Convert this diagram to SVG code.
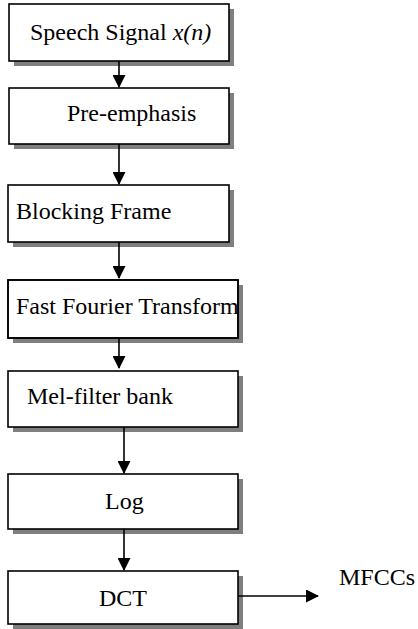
<svg xmlns="http://www.w3.org/2000/svg" width="418" height="629" viewBox="0 0 418 629">
<style>
.sh{fill:#7f7f7f;stroke:none}
.bx{fill:#fff;stroke:#000;stroke-width:1.6}
.t{font-family:'Liberation Serif','Times New Roman',Tinos,'DejaVu Serif',serif;font-size:24px;fill:#000}
.c{stroke:#000;stroke-width:1.6;fill:none}
</style>
<defs>
<marker id="ah" markerWidth="13" markerHeight="13" refX="12" refY="6.5" orient="auto" markerUnits="userSpaceOnUse">
<path d="M0,0 L13,6.5 L0,13 Z" fill="#000"/>
</marker>
<clipPath id="cfft"><rect x="8" y="280" width="230" height="58"/></clipPath>
</defs>
<rect width="418" height="629" fill="#fff"/>
<g id="n1">
<rect class="sh" x="14" y="9" width="220" height="57"/>
<rect class="bx" x="9" y="4" width="220" height="57"/>
<text class="t" x="30" y="40">Speech Signal <tspan font-style="italic">x(n)</tspan></text>
</g>
<g id="n2">
<rect class="sh" x="14" y="93" width="220" height="56"/>
<rect class="bx" x="9" y="88" width="220" height="56"/>
<text class="t" x="67" y="121">Pre-emphasis</text>
</g>
<g id="n3">
<rect class="sh" x="13" y="190" width="221" height="57"/>
<rect class="bx" x="8" y="185" width="221" height="57"/>
<text class="t" x="16" y="219">Blocking Frame</text>
</g>
<g id="n4">
<rect class="sh" x="13" y="285" width="230" height="58"/>
<rect class="bx" x="8" y="280" width="230" height="58"/>
<text class="t" x="16" y="314" clip-path="url(#cfft)">Fast Fourier Transform</text>
<rect x="8" y="280" width="230" height="58" fill="none" stroke="#000" stroke-width="1.6"/>
</g>
<g id="n5">
<rect class="sh" x="13" y="376" width="230" height="56"/>
<rect class="bx" x="8" y="371" width="230" height="56"/>
<text class="t" x="27" y="404">Mel-filter bank</text>
</g>
<g id="n6">
<rect class="sh" x="13" y="479" width="230" height="55"/>
<rect class="bx" x="8" y="474" width="230" height="55"/>
<text class="t" x="105" y="509">Log</text>
</g>
<g id="n7">
<rect class="sh" x="13" y="576" width="230" height="53"/>
<rect class="bx" x="8" y="571" width="230" height="53"/>
<text class="t" x="99" y="606">DCT</text>
</g>
<g id="connectors">
<line class="c" x1="119" y1="61" x2="119" y2="87" marker-end="url(#ah)"/>
<line class="c" x1="119" y1="144" x2="119" y2="184" marker-end="url(#ah)"/>
<line class="c" x1="119" y1="242" x2="119" y2="278" marker-end="url(#ah)"/>
<line class="c" x1="119" y1="338" x2="119" y2="368" marker-end="url(#ah)"/>
<line class="c" x1="124" y1="427" x2="124" y2="473" marker-end="url(#ah)"/>
<line class="c" x1="124" y1="529" x2="124" y2="570" marker-end="url(#ah)"/>
<line class="c" x1="238" y1="596" x2="318" y2="596" marker-end="url(#ah)"/>
</g>
<text id="mfccs" class="t" x="339" y="585">MFCCs</text>
</svg>
